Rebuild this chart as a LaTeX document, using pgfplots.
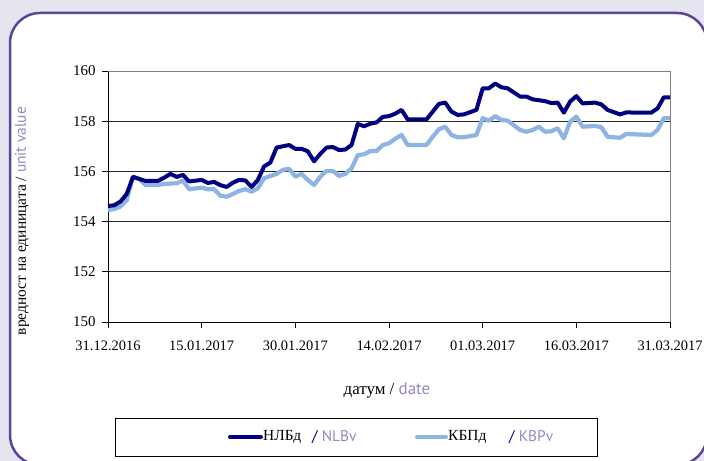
\documentclass[border=0pt]{standalone}
\usepackage{pgfplots}
\pgfplotsset{compat=1.18}
\usepackage{fontspec}
\setmainfont{Liberation Serif}
\newfontfamily\latfont{PT Sans}
\definecolor{bgl}{HTML}{E6E4EF}
\definecolor{frame}{HTML}{5E4499}
\definecolor{lav}{HTML}{9A86C2}
\definecolor{nlb}{HTML}{000080}
\definecolor{kbp}{HTML}{8DB4E2}
\begin{document}
\begin{tikzpicture}[x=1bp,y=1bp]
\useasboundingbox (0,0) rectangle (704,461);
\fill[bgl] (0,0) rectangle (704,461);
\begin{scope}
\clip (0,0) rectangle (704,461);
\draw[frame,line width=2.5bp,fill=white,rounded corners=30bp] (10,-4) rectangle (707,448);
\end{scope}
\begin{axis}[
  at={(108bp,139bp)}, anchor=south west,
  scale only axis, width=562bp, height=251bp,
  xmin=0, xmax=90, ymin=150, ymax=160,
  axis x line*=bottom, axis y line*=left,
  axis line style={black, line width=0.8bp},
  xtick={0,15,30,45,60,75,90},
  xticklabels={31.12.2016,15.01.2017,30.01.2017,14.02.2017,01.03.2017,16.03.2017,31.03.2017},
  ytick={150,152,154,156,158,160},
  tick align=outside, tick style={black, line width=0.8bp},
  major tick length=6bp,
  ymajorgrids, grid style={black!85, line width=0.8bp},
  yticklabel style={font=\fontsize{15}{17}\selectfont, xshift=-3bp},
  xticklabel style={font=\fontsize{14.5}{16}\selectfont, yshift=-9bp},
  /pgf/number format/assume math mode=true,
  clip=false,
]
\draw[gray, line width=0.8bp] (rel axis cs:0,1) -- (rel axis cs:1,1) -- (rel axis cs:1,0);
\addplot[kbp, line width=4.2bp, line join=round] coordinates {
(0,154.46) (1,154.5) (2,154.6) (3,154.85) (4,155.79) (5,155.7) (6,155.46) (8,155.46)
(9,155.5) (11,155.53) (12,155.63) (13,155.29) (15,155.35) (16,155.29) (17,155.29)
(18,155.03) (19,154.99) (20,155.1) (21,155.22) (22,155.29) (23,155.19) (24,155.33)
(25,155.73) (27,155.9) (28,156.06) (29,156.1) (30,155.79) (31,155.9) (32,155.66)
(33,155.46) (34,155.79) (35,156.02) (36,156.02) (37,155.82) (38,155.9) (39,156.12)
(40,156.65) (41,156.68) (42,156.81) (43,156.81) (44,157.05) (45,157.12) (46,157.3)
(47,157.45) (48,157.05) (51,157.05) (52,157.38) (53,157.68) (54,157.78) (55,157.45)
(56,157.36) (57,157.36) (59,157.45) (60,158.12) (61,158.02) (62,158.2) (63,158.05)
(64,158.02) (66,157.65) (67,157.58) (68,157.65) (69,157.78) (70,157.58) (71,157.6)
(72,157.72) (73,157.32) (74,157.98) (75,158.18) (76,157.78) (78,157.81) (79,157.76)
(80,157.38) (82,157.34) (83,157.49) (85,157.47) (87,157.45) (88,157.65) (89,158.12) (90,158.12)
};
\addplot[nlb, line width=4bp, line join=round] coordinates {
(0,154.62) (1,154.65) (2,154.8) (3,155.1) (4,155.78) (5,155.7) (6,155.62) (8,155.62)
(9,155.75) (10,155.9) (11,155.78) (12,155.86) (13,155.6) (15,155.66) (16,155.54)
(17,155.58) (18,155.45) (19,155.38) (20,155.55) (21,155.66) (22,155.64) (23,155.38)
(24,155.66) (25,156.2) (26,156.35) (27,156.95) (29,157.05) (30,156.9) (31,156.9)
(32,156.8) (33,156.4) (34,156.7) (35,156.95) (36,156.97) (37,156.85) (38,156.87)
(39,157.05) (40,157.89) (41,157.8) (42,157.9) (43,157.95) (44,158.17) (45,158.2)
(46,158.3) (47,158.45) (48,158.07) (51,158.07) (52,158.38) (53,158.69) (54,158.74)
(55,158.38) (56,158.25) (57,158.27) (59,158.45) (60,159.31) (61,159.31) (62,159.5)
(63,159.35) (64,159.31) (66,158.98) (67,158.98) (68,158.87) (70,158.8) (71,158.72)
(72,158.74) (73,158.34) (74,158.78) (75,159.0) (76,158.71) (78,158.74) (79,158.67)
(80,158.45) (82,158.27) (83,158.35) (85,158.34) (87,158.34) (88,158.51) (89,158.95) (90,158.95)
};
\end{axis}
% axis labels
\node[rotate=90, font=\fontsize{15.5}{17}\selectfont] at (22,240) {вредност на единицата / \textcolor{lav}{\latfont unit value}};
\node[font=\fontsize{17}{19}\selectfont] at (387,71) {датум / \textcolor{lav}{\latfont date}};
% legend box
\draw[black, line width=0.8bp] (115,5) rectangle (597,43);
\draw[nlb, line width=4bp, line cap=round] (230,24) -- (261,24);
\node[anchor=west, font=\fontsize{15.5}{17}\selectfont, inner sep=0pt] at (263,24) {НЛБд};
\node[anchor=west, font=\fontsize{15.5}{17}\selectfont, inner sep=0pt] at (312,24) {\latfont\textcolor{nlb}{/} \textcolor{lav}{NLBv}};
\draw[kbp, line width=4bp, line cap=round] (417,24) -- (446,24);
\node[anchor=west, font=\fontsize{15.5}{17}\selectfont, inner sep=0pt] at (448,24) {КБПд};
\node[anchor=west, font=\fontsize{15.5}{17}\selectfont, inner sep=0pt] at (509,24) {\latfont\textcolor{nlb}{/} \textcolor{lav}{KBPv}};
\end{tikzpicture}
\end{document}
